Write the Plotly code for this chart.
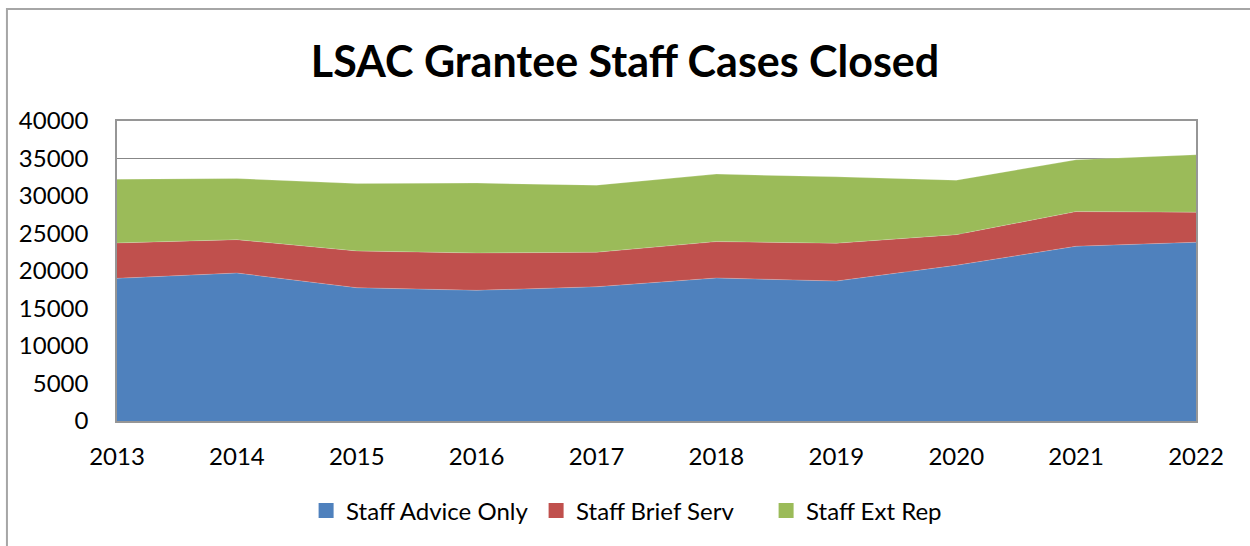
import plotly.graph_objects as go

years = [2013, 2014, 2015, 2016, 2017, 2018, 2019, 2020, 2021, 2022]
advice_only = [19020, 19730, 17770, 17420, 17900, 19070, 18660, 20760, 23300, 23830]
brief_serv = [4720, 4450, 4900, 4980, 4600, 4850, 5040, 4090, 4620, 4010]
ext_rep = [8510, 8150, 8990, 9320, 8950, 9000, 8860, 7260, 6910, 7660]

series = [
    ("Staff Advice Only", advice_only, "#4F81BD"),
    ("Staff Brief Serv", brief_serv, "#C0504D"),
    ("Staff Ext Rep", ext_rep, "#9BBB59"),
]

FONT = "Lato, Calibri, 'Open Sans', sans-serif"

fig = go.Figure()
for name, vals, col in series:
    fig.add_trace(go.Scatter(
        x=years, y=vals, name=name, mode="lines",
        stackgroup="one", fillcolor=col, showlegend=False,
        line=dict(width=0.6, color="rgba(255,255,255,0.35)"),
    ))
# legend entries with square swatches
for name, vals, col in series:
    fig.add_trace(go.Scatter(
        x=[None], y=[None], name=name, mode="markers",
        marker=dict(symbol="square", size=15, color=col),
        showlegend=True,
    ))

fig.update_layout(
    width=1250, height=546,
    paper_bgcolor="white", plot_bgcolor="white",
    margin=dict(l=117, r=54, t=121, b=125),
    font=dict(family=FONT, size=24, color="black"),
    title=dict(text="<b>LSAC Grantee Staff Cases Closed</b>",
               font=dict(family=FONT, size=43, color="black"),
               x=0.5, xanchor="center", y=0.887, yanchor="middle"),
    showlegend=True,
    legend=dict(orientation="h", x=0.495, xanchor="center", y=-0.3, yanchor="middle",
                font=dict(family=FONT, size=24), traceorder="normal",
                itemwidth=30, tracegroupgap=0, entrywidth=185),
    shapes=[dict(type="rect", xref="paper", yref="paper",
                 x0=-0.102, x1=1.3, y0=-0.6, y1=1.373,
                 line=dict(color="#A6A6A6", width=2), layer="below")],
)
fig.update_xaxes(range=[2013, 2022], tickmode="array", tickvals=years,
                 ticktext=[str(y) for y in years], showgrid=False,
                 showline=True, linecolor="#969696", linewidth=1.5, mirror=True,
                 ticks="", ticklabelstandoff=13, zeroline=False)
fig.update_yaxes(range=[0, 40000], dtick=5000, tickformat="d", showgrid=True,
                 gridcolor="#878787", gridwidth=1.2,
                 showline=True, linecolor="#969696", linewidth=1.5, mirror=True,
                 ticks="", ticklabelstandoff=22, zeroline=False)

fig.write_html("out.html")
